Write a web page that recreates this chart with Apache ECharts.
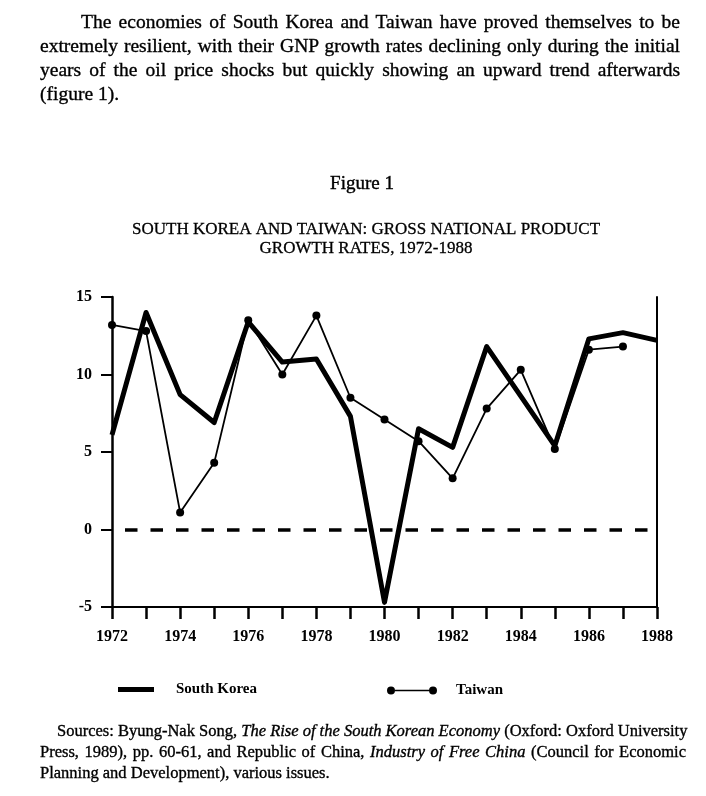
<!DOCTYPE html>
<html>
<head>
<meta charset="utf-8">
<script src="https://cdn.jsdelivr.net/npm/echarts@6/dist/echarts.min.js"></script>
<style>
  body{margin:0;background:#fff;}
  #page{position:relative;width:706px;height:796px;overflow:hidden;background:#fff;}
  #chart{position:absolute;left:0;top:0;width:706px;height:796px;}
  .ln{position:absolute;white-space:nowrap;font-family:"Liberation Serif",serif;color:#000;
      text-align:justify;text-align-last:justify;z-index:2;-webkit-text-stroke:0.35px #000;}
  .p{font-size:19.5px;height:24px;line-height:24px;}
  .s{font-size:16.5px;height:21px;line-height:21px;}
  .left{text-align:left;text-align-last:left;}
</style>
</head>
<body>
<div id="page">
  <div id="chart"></div>
  <!-- paragraph above the figure -->
  <div class="ln p" style="left:81px;top:10px;width:599px;">The economies of South Korea and Taiwan have proved themselves to be</div>
  <div class="ln p" style="left:40px;top:34px;width:640px;">extremely resilient, with their GNP growth rates declining only during the initial</div>
  <div class="ln p" style="left:40px;top:58px;width:640px;">years of the oil price shocks but quickly showing an upward trend afterwards</div>
  <div class="ln p left" style="left:40px;top:82px;">(figure 1).</div>
  <!-- sources -->
  <div class="ln s" style="left:57px;top:720px;width:629px;">Sources: Byung-Nak Song, <i>The Rise of the South Korean Economy</i> (Oxford: Oxford University</div>
  <div class="ln s" style="left:40px;top:741px;width:646px;">Press, 1989), pp. 60-61, and Republic of China, <i>Industry of Free China</i> (Council for Economic</div>
  <div class="ln s left" style="left:40px;top:762px;">Planning and Development), various issues.</div>
</div>
<script>
  // 年份
  var years = ['1972','1973','1974','1975','1976','1977','1978','1979','1980',
               '1981','1982','1983','1984','1985','1986','1987','1988'];
  // GNP growth rates, %
  var southKorea = [6.1, 14.0, 8.7, 6.9, 13.4, 10.8, 11.0, 7.3, -4.7,
                    6.5, 5.3, 11.8, 8.6, 5.4, 12.3, 12.7, 12.2];
  var taiwan = [13.2, 12.8, 1.1, 4.3, 13.5, 10.0, 13.8, 8.5, 7.1,
                5.7, 3.3, 7.8, 10.3, 5.2, 11.6, 11.8, null];
  var yTicks = [-5, 0, 5, 10, 15];

  var serif = '"Liberation Serif", serif';
  var myChart = echarts.init(document.getElementById('chart'));
  var option = {
    backgroundColor: 'transparent',
    animation: false,
    title: [
      {
        text: 'Figure 1',
        left: 357, top: 170, textAlign: 'center',
        textStyle: {fontFamily: serif, fontSize: 19, fontWeight: 'normal', color: '#000',
                    textBorderColor: '#000', textBorderWidth: 0.4}
      },
      {
        text: 'SOUTH KOREA AND TAIWAN: GROSS NATIONAL PRODUCT\nGROWTH RATES, 1972-1988',
        left: 361, top: 215, textAlign: 'center',
        textStyle: {fontFamily: serif, fontSize: 17, fontWeight: 'normal', color: '#000', lineHeight: 19,
                    textBorderColor: '#000', textBorderWidth: 0.3}
      }
    ],
    legend: [
      {
        data: ['South Korea'],
        left: 113, top: 677,
        icon: 'rect', itemWidth: 36, itemHeight: 5,
        textStyle: {fontFamily: serif, fontSize: 15, fontWeight: 'bold', color: '#000', padding: [0, 0, 0, 17]}
      },
      {
        data: ['Taiwan'],
        left: 382, top: 678,
        icon: 'path://M0,4a4,4 0 1,0 8,0a4,4 0 1,0 -8,0zM42,4a4,4 0 1,0 8,0a4,4 0 1,0 -8,0zM8,3.2h34v1.6h-34z',
        itemWidth: 50, itemHeight: 8,
        textStyle: {fontFamily: serif, fontSize: 15, fontWeight: 'bold', color: '#000', padding: [0, 0, 0, 14]}
      }
    ],
    grid: {left: 112, right: 49, top: 297, bottom: 189},
    xAxis: {
      type: 'category',
      data: years,
      boundaryGap: false,
      axisLine: {onZero: false, lineStyle: {color: '#000', width: 2}},
      axisTick: {show: true, interval: 0, length: 12, lineStyle: {color: '#000', width: 2.5}},
      axisLabel: {interval: 1, margin: 22, color: '#000', fontFamily: serif, fontSize: 16, fontWeight: 'bold'},
      splitLine: {show: false}
    },
    yAxis: [
      {
        type: 'value',
        min: yTicks[0], max: yTicks[yTicks.length - 1], interval: 5,
        axisLine: {show: true, lineStyle: {color: '#000', width: 2.5}},
        axisTick: {show: true, length: 11, lineStyle: {color: '#000', width: 2}},
        axisLabel: {margin: 20, color: '#000', fontFamily: serif, fontSize: 16, fontWeight: 'bold'},
        splitLine: {show: false}
      },
      {
        // 右边框
        type: 'value', position: 'right',
        min: yTicks[0], max: yTicks[yTicks.length - 1], interval: 5,
        axisLine: {show: true, lineStyle: {color: '#000', width: 2}},
        axisTick: {show: false}, axisLabel: {show: false}, splitLine: {show: false}
      }
    ],
    series: [
      {
        name: 'Taiwan',
        type: 'line',
        data: taiwan,
        color: '#000',
        symbol: 'circle', symbolSize: 8, showAllSymbol: true,
        lineStyle: {color: '#000', width: 1.8},
        itemStyle: {color: '#000'}
      },
      {
        name: 'South Korea',
        type: 'line',
        data: southKorea,
        color: '#000',
        symbol: 'none',
        lineStyle: {color: '#000', width: 5, join: 'round'},
        markLine: {
          silent: true,
          symbol: ['none', 'none'],
          label: {show: false},
          lineStyle: {color: '#000', width: 3.5, type: [12.5, 13], dashOffset: 12.5},
          data: [{yAxis: 0}]
        }
      }
    ]
  };
  myChart.setOption(option);
</script>
</body>
</html>
